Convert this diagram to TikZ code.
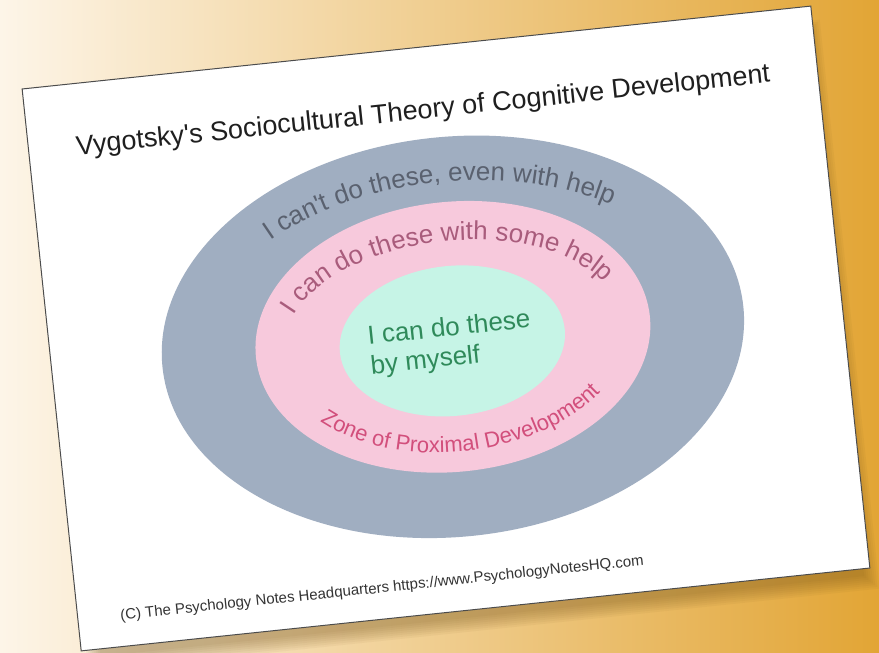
\documentclass[tikz,border=0pt]{standalone}
\usepackage{fontspec}
\usepackage{tikz}
\usetikzlibrary{decorations.text}
\newfontfamily\arialfont{Liberation Sans}
\newcommand\bigfont{\arialfont\fontsize{26}{30}\selectfont}
\newcommand\zonefont{\arialfont\fontsize{22}{26}\selectfont}

\definecolor{bgleft}{HTML}{FDF5E8}
\definecolor{bgmid}{HTML}{F5DCAA}
\definecolor{bgright}{HTML}{E2A535}
\definecolor{shadowcol}{HTML}{6B4A12}
\definecolor{ringgray}{HTML}{A0AEC1}
\definecolor{ringpink}{HTML}{F7C9DC}
\definecolor{ringmint}{HTML}{C6F4E6}
\definecolor{txtgray}{HTML}{5A616F}
\definecolor{txtmauve}{HTML}{A95C7C}
\definecolor{txtrose}{HTML}{D24F7C}
\definecolor{txtgreen}{HTML}{2F8A5A}

\begin{document}
\begin{tikzpicture}[x=1pt, y=1pt,
    every node/.style={font=\arialfont, inner sep=0pt},
    ringtext/.style 2 args={decorate, decoration={text along path, text align=center, text color=#1, text={#2}}}]
  \useasboundingbox (0,0) rectangle (879,653);
  \shade[left color=bgleft, middle color=bgmid, right color=bgright] (0,0) rectangle (879,653);

  \begin{scope}[shift={(446,324.5)}, rotate=6, transform shape]
    \foreach \k in {0,...,7}
      \fill[shadowcol, opacity=0.05] (-392+2*\k,-304+2*\k) rectangle (404-2*\k,268-2*\k);
    \draw[black!70, line width=1pt, fill=white] (-396.5,-282.5) rectangle (396.5,282.5);

    \coordinate (ctr) at (6,-9);
    \fill[ringgray] (ctr) ellipse [x radius=292, y radius=200];
    \fill[ringpink] (ctr) ellipse [x radius=198, y radius=135];
    \fill[ringmint] (5,-13) ellipse [x radius=113, y radius=75];

    \path[ringtext={txtgray}{|\bigfont|I can't do these, even with help}]
      (ctr) ++(170:255 and 155) arc [start angle=170, end angle=10, x radius=255, y radius=155];
    \path[ringtext={txtmauve}{|\bigfont|I can do these with some help}]
      (ctr) ++(175:170 and 96) arc [start angle=175, end angle=5, x radius=170, y radius=96];
    \path[ringtext={txtrose}{|\zonefont|Zone of Proximal Development}]
      (ctr) ++(190:178 and 115) arc [start angle=190, end angle=350, x radius=178, y radius=115];

    \node[align=left, font=\bigfont, text=txtgreen] (self) at (3,-16) {I can do these\\by myself};
    \node[anchor=base, font=\arialfont\fontsize{27}{32}\selectfont, text=black!88] (title) at (0,211)
      {Vygotsky's Sociocultural Theory of Cognitive Development};
    \node[anchor=base west, font=\arialfont\fontsize{15}{18}\selectfont, text=black!80] (credit) at (-354,-256)
      {(C) The Psychology Notes Headquarters https://www.PsychologyNotesHQ.com};
  \end{scope}
\end{tikzpicture}
\end{document}
